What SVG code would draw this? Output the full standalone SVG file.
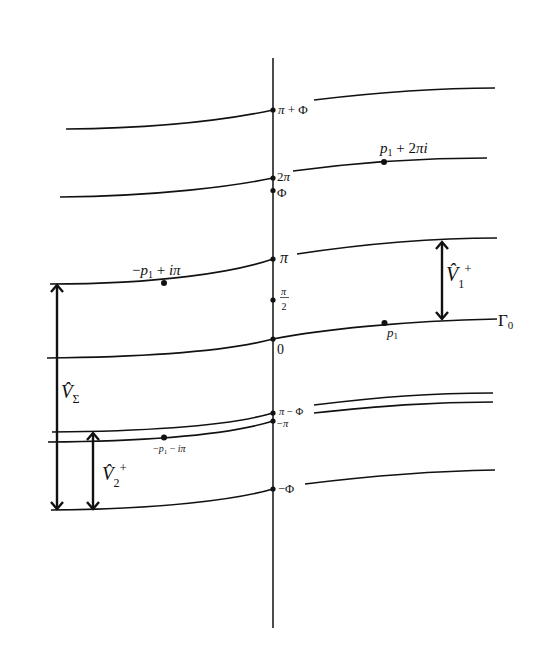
<svg xmlns="http://www.w3.org/2000/svg" width="548" height="654" viewBox="0 0 548 654">
<style>
.c{fill:none;stroke:#111;stroke-width:1.6}
.ax{fill:none;stroke:#111;stroke-width:1.5}
.ar{fill:none;stroke:#111;stroke-width:2.4}
.t{font-family:"Liberation Serif","DejaVu Serif",serif;fill:#111}
.i{font-style:italic}
</style>
<defs>
<marker id="ah" markerUnits="userSpaceOnUse" viewBox="-10 -10 20 20" refX="0" refY="0" markerWidth="20" markerHeight="20" orient="auto-start-reverse" overflow="visible">
<path d="M-7,-6 L0,0 L-7,6" fill="none" stroke="#111" stroke-width="2.4"/>
</marker>
</defs>
<rect width="548" height="654" fill="#fff"/>
<g id="connectors">
<line class="ax" x1="273" y1="58" x2="273" y2="628"/>
<path class="c" d="M66,129 C170,128 235,118 273,110"/>
<path class="c" d="M314,100 C380,92 440,88 495,88"/>
<path class="c" d="M60,197 C160,196 235,186 273,178"/>
<path class="c" d="M293,171 C360,162 420,158 487,158"/>
<path class="c" d="M50,284 C160,284 235,272 273,259"/>
<path class="c" d="M297,254 C370,243 430,238 497,238"/>
<path class="c" d="M47,358 C160,357 235,349 273,339 C320,330 400,321 497,319"/>
<path class="c" d="M52,432 C160,431 235,424 273,413"/>
<path class="c" d="M314,405 C380,397 430,393 493,393"/>
<path class="c" d="M48,442 C160,441 235,433 273,421"/>
<path class="c" d="M314,413 C380,406 430,402 493,402"/>
<path class="c" d="M51,510 C160,509 235,500 273,489"/>
<path class="c" d="M305,484 C370,476 430,471 495,470"/>
<line class="ar" x1="442" y1="242" x2="442" y2="319" marker-start="url(#ah)" marker-end="url(#ah)"/>
<line class="ar" x1="57" y1="285" x2="57" y2="509" marker-start="url(#ah)" marker-end="url(#ah)"/>
<line class="ar" x1="93" y1="433" x2="93" y2="509" marker-start="url(#ah)" marker-end="url(#ah)"/>
</g>
<g id="axis-points" fill="#111">
<circle cx="273" cy="110" r="2.6"/>
<circle cx="273" cy="178" r="2.6"/>
<circle cx="273" cy="190.5" r="2.6"/>
<circle cx="273" cy="259" r="2.6"/>
<circle cx="273" cy="300" r="2.6"/>
<circle cx="273" cy="339" r="2.6"/>
<circle cx="273" cy="413" r="2.6"/>
<circle cx="273" cy="421" r="2.6"/>
<circle cx="273" cy="489" r="2.6"/>
</g>
<g id="n-pi-plus-phi"><text class="t" x="278" y="113.5" font-size="13"><tspan class="i">π</tspan> + Φ</text></g>
<g id="n-2pi"><text class="t" x="277" y="181" font-size="13">2<tspan class="i">π</tspan></text></g>
<g id="n-phi"><text class="t" x="277" y="197" font-size="13">Φ</text></g>
<g id="n-pi"><text class="t i" x="280" y="263" font-size="16">π</text></g>
<g id="n-pi-half">
<text class="t i" x="281" y="295" font-size="10">π</text>
<line x1="280" y1="297.5" x2="289" y2="297.5" stroke="#111" stroke-width="0.7"/>
<text class="t" x="281.5" y="310" font-size="10">2</text>
</g>
<g id="n-zero"><text class="t" x="277" y="354" font-size="14">0</text></g>
<g id="n-pi-minus-phi"><text class="t" x="279" y="414.5" font-size="10.5"><tspan class="i">π</tspan> − Φ</text></g>
<g id="n-minus-pi"><text class="t" x="277" y="427" font-size="10.5">−<tspan class="i">π</tspan></text></g>
<g id="n-minus-phi"><text class="t" x="278" y="493" font-size="12.5">−Φ</text></g>
<g id="n-p1-2pi">
<circle cx="384" cy="162" r="3" fill="#111"/>
<text class="t" x="380" y="153" font-size="15"><tspan class="i">p</tspan><tspan font-size="10" dy="3">1</tspan><tspan dy="-3"> + 2</tspan><tspan class="i">πi</tspan></text>
</g>
<g id="n-mp1-ipi">
<circle cx="164" cy="283" r="3" fill="#111"/>
<text class="t" x="132" y="275" font-size="15">−<tspan class="i">p</tspan><tspan font-size="10" dy="3">1</tspan><tspan dy="-3"> + </tspan><tspan class="i">iπ</tspan></text>
</g>
<g id="n-p1">
<circle cx="384.5" cy="323" r="3" fill="#111"/>
<text class="t" x="387" y="337" font-size="13"><tspan class="i">p</tspan><tspan font-size="9" dy="2">1</tspan></text>
</g>
<g id="n-mp1-mipi">
<circle cx="164" cy="437.5" r="3" fill="#111"/>
<text class="t" x="153" y="452" font-size="10">−<tspan class="i">p</tspan><tspan font-size="7" dy="2">1</tspan><tspan dy="-2"> − </tspan><tspan class="i">iπ</tspan></text>
</g>
<g id="n-gamma0"><text class="t" x="498" y="326" font-size="17">Γ<tspan font-size="11" dy="3">0</tspan></text></g>
<g id="n-v1">
<text class="t" x="446" y="281" font-size="20"><tspan class="i">V̂</tspan><tspan font-size="12" dy="7">1</tspan><tspan font-size="13" dy="-15">+</tspan></text>
</g>
<g id="n-vsigma">
<text class="t" x="61" y="398" font-size="19"><tspan class="i">V̂</tspan><tspan font-size="12" dy="5">Σ</tspan></text>
</g>
<g id="n-v2">
<text class="t" x="102" y="480" font-size="19"><tspan class="i">V̂</tspan><tspan font-size="12" dy="7">2</tspan><tspan font-size="13" dy="-15">+</tspan></text>
</g>
</svg>
